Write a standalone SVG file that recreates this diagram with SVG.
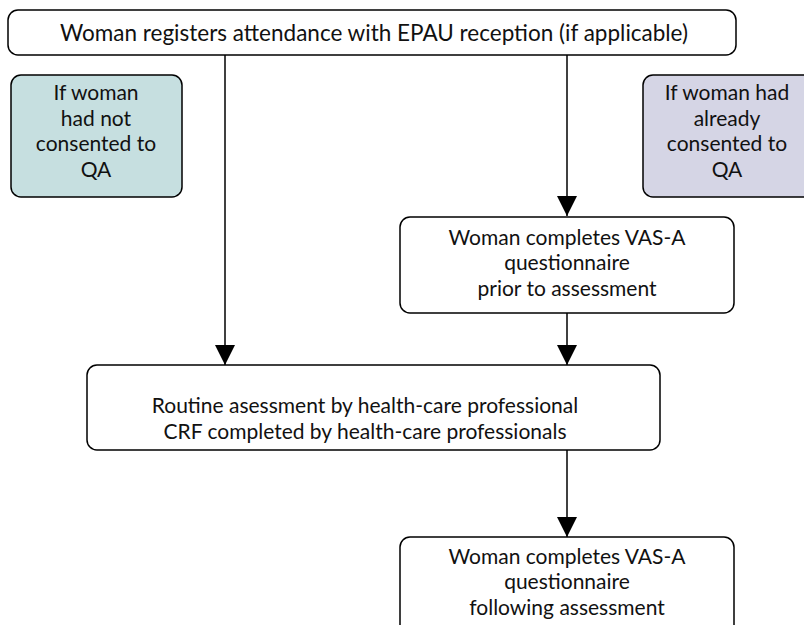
<svg xmlns="http://www.w3.org/2000/svg" width="804" height="625" viewBox="0 0 804 625">
<defs>
<style>
.box{stroke:#000;stroke-width:1.5;fill:#fff}
.t{font-family:Lato,"Noto Sans",sans-serif;font-size:21px;fill:#111;text-anchor:middle}
.c{stroke:#000;stroke-width:1.5;fill:none;marker-end:url(#ah)}
</style>
<marker id="ah" markerUnits="userSpaceOnUse" markerWidth="20" markerHeight="20" viewBox="0 0 20 20" refX="20" refY="10" orient="auto">
<path d="M0,0 L20,10 L0,20 Z" fill="#000"/>
</marker>
</defs>
<rect width="804" height="625" fill="#fff"/>
<g id="connectors">
<line class="c" x1="225" y1="55" x2="225" y2="365"/>
<line class="c" x1="567" y1="55" x2="567" y2="216"/>
<line class="c" x1="567" y1="313" x2="567" y2="365"/>
<line class="c" x1="567" y1="450" x2="567" y2="537"/>
</g>
<g id="registers">
<rect class="box" x="8" y="10" width="728" height="45" rx="10"/>
<text class="t" x="374" y="41" style="font-size:22.5px" textLength="628" lengthAdjust="spacingAndGlyphs">Woman registers attendance with EPAU reception (if applicable)</text>
</g>
<g id="not-consented">
<rect class="box" x="11" y="75" width="171" height="122" rx="10" style="fill:#c6dfe0"/>
<text class="t" x="96" y="100.3">If woman</text>
<text class="t" x="96" y="125.8">had not</text>
<text class="t" x="96" y="151.3">consented to</text>
<text class="t" x="96" y="176.8">QA</text>
</g>
<g id="already-consented">
<rect class="box" x="643" y="75" width="175" height="122" rx="10" style="fill:#d5d5e5"/>
<text class="t" x="727" y="100.3">If woman had</text>
<text class="t" x="727" y="125.8">already</text>
<text class="t" x="727" y="151.3">consented to</text>
<text class="t" x="727" y="176.8">QA</text>
</g>
<g id="vas-prior">
<rect class="box" x="400" y="217" width="334" height="96" rx="10"/>
<text class="t" x="567" y="244.5">Woman completes VAS-A</text>
<text class="t" x="567" y="270">questionnaire</text>
<text class="t" x="567" y="295.5">prior to assessment</text>
</g>
<g id="routine">
<rect class="box" x="87" y="365" width="573" height="85" rx="10"/>
<text class="t" x="365" y="413">Routine asessment by health-care professional</text>
<text class="t" x="365" y="439">CRF completed by health-care professionals</text>
</g>
<g id="vas-following">
<rect class="box" x="400" y="537" width="334" height="110" rx="10"/>
<text class="t" x="567" y="563.5">Woman completes VAS-A</text>
<text class="t" x="567" y="589">questionnaire</text>
<text class="t" x="567" y="614.5">following assessment</text>
</g>
</svg>
